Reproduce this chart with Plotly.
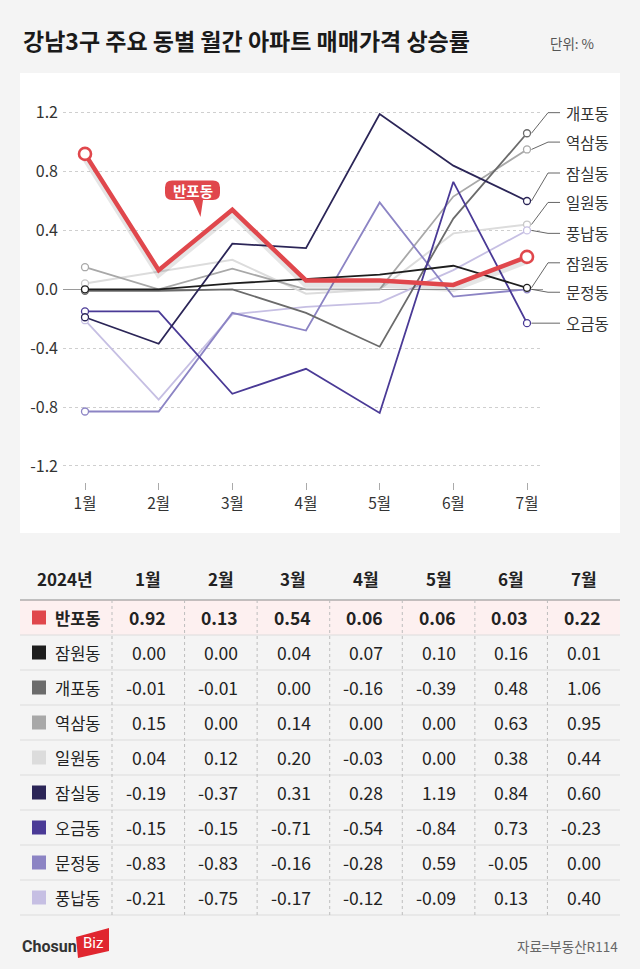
import plotly.graph_objects as go

W, H = 640, 969

# ---------------- data ----------------
months = ["1월", "2월", "3월", "4월", "5월", "6월", "7월"]
year_label = "2024년"
names = ["반포동", "잠원동", "개포동", "역삼동", "일원동", "잠실동", "오금동", "문정동", "풍납동"]
banpo = [0.92, 0.13, 0.54, 0.06, 0.06, 0.03, 0.22]
jamwon = [0.00, 0.00, 0.04, 0.07, 0.10, 0.16, 0.01]
gaepo = [-0.01, -0.01, 0.00, -0.16, -0.39, 0.48, 1.06]
yeoksam = [0.15, 0.00, 0.14, 0.00, 0.00, 0.63, 0.95]
irwon = [0.04, 0.12, 0.20, -0.03, 0.00, 0.38, 0.44]
jamsil = [-0.19, -0.37, 0.31, 0.28, 1.19, 0.84, 0.60]
ogeum = [-0.15, -0.15, -0.71, -0.54, -0.84, 0.73, -0.23]
munjeong = [-0.83, -0.83, -0.16, -0.28, 0.59, -0.05, 0.00]
pungnap = [-0.21, -0.75, -0.17, -0.12, -0.09, 0.13, 0.40]
y_ticks = [-1.2, -0.8, -0.4, 0.0, 0.4, 0.8, 1.2]

series = [banpo, jamwon, gaepo, yeoksam, irwon, jamsil, ogeum, munjeong, pungnap]
colors = ["#e0474c", "#1e1e1e", "#6b6b6b", "#a8a8a8", "#dcdcdc",
          "#2b2557", "#4a3a96", "#8c84c4", "#c6bfe3"]

# right-side labels (top to bottom) and their vertical slots (layout)
side_labels = ["개포동", "역삼동", "잠실동", "일원동", "풍납동", "잠원동", "문정동", "오금동"]
side_slots = [1.2, 1.0, 0.79, 0.59, 0.38, 0.18, -0.02, -0.23]

title = "강남3구 주요 동별 월간 아파트 매매가격 상승률"
unit = "단위: %"
source = "자료=부동산R114"

FONT = "Noto Sans CJK KR, Noto Sans, sans-serif"


def fx(px):
    return px / W


def fy(py):
    return 1 - py / H


# ---------------- chart geometry ----------------
PX_PER_X = 73.67
PX_PER_Y = 147.2
X0_PX = 85.0          # pixel of first month
Y0_PX = 289.3         # pixel of value 0
PLOT_L, PLOT_R, PLOT_T, PLOT_B = 63, 543, 100, 482
WIDE_R = 632

xr = [-(X0_PX - PLOT_L) / PX_PER_X, 6 + (PLOT_R - 527) / PX_PER_X]
xr_wide = [xr[0], xr[0] + (WIDE_R - PLOT_L) / PX_PER_X]
yr = [-(PLOT_B - Y0_PX) / PX_PER_Y, (Y0_PX - PLOT_T) / PX_PER_Y]

fig = go.Figure()

idx = list(range(len(months)))
draw_order = [4, 8, 3, 7, 2, 6, 5, 1]
for i in draw_order:
    fig.add_trace(go.Scatter(
        x=idx, y=series[i], mode="lines",
        line=dict(color=colors[i], width=2 if i == 4 else 1.8),
        hoverinfo="skip", showlegend=False, xaxis="x", yaxis="y"))
for i in draw_order:
    fig.add_trace(go.Scatter(
        x=[idx[0], idx[-1]], y=[series[i][0], series[i][-1]], mode="markers",
        marker=dict(size=7, color="white", line=dict(color=colors[i] if i != 4 else "#c8c8c8", width=1.3)),
        hoverinfo="skip", showlegend=False, xaxis="x", yaxis="y"))

# shadow of the highlighted line
fig.add_trace(go.Scatter(
    x=idx, y=[v - 0.025 for v in banpo], mode="lines",
    line=dict(color="rgba(0,0,0,0.10)", width=7),
    hoverinfo="skip", showlegend=False, xaxis="x", yaxis="y"))
fig.add_trace(go.Scatter(
    x=idx, y=banpo, mode="lines",
    line=dict(color=colors[0], width=4.5),
    hoverinfo="skip", showlegend=False, xaxis="x", yaxis="y"))
fig.add_trace(go.Scatter(
    x=[idx[0], idx[-1]], y=[banpo[0], banpo[-1]], mode="markers",
    marker=dict(size=12, color="white", line=dict(color=colors[0], width=2.6)),
    hoverinfo="skip", showlegend=False, xaxis="x", yaxis="y"))

# leader lines + side labels (wide overlay subplot)
name_to_series = dict(zip(names, series))
ELBOW_X = 6 + 21 / PX_PER_X
END_X = 6 + 33 / PX_PER_X
for lab, slot in zip(side_labels, side_slots):
    v = name_to_series[lab][-1]
    fig.add_trace(go.Scatter(
        x=[idx[-1] + 0.06, ELBOW_X, END_X], y=[v, slot, slot], mode="lines",
        line=dict(color="#555555", width=0.9),
        hoverinfo="skip", showlegend=False, xaxis="x3", yaxis="y3"))

annotations = []
shapes = []

for lab, slot in zip(side_labels, side_slots):
    annotations.append(dict(
        x=END_X + 4 / PX_PER_X, y=slot, xref="x3", yref="y3", text=lab,
        showarrow=False, xanchor="left", yanchor="middle",
        font=dict(family=FONT, size=15.5, color="#333333")))

# white chart panel
shapes.append(dict(type="rect", xref="paper", yref="paper", layer="below",
                   x0=fx(20), x1=fx(620), y0=fy(533), y1=fy(73),
                   fillcolor="white", line=dict(width=0)))


# callout bubble for 반포동
def P(px, py):
    return f"{fx(px):.5f},{fy(py):.5f}"


bx0, bx1, by0, by1, r = 165, 220, 180.5, 200, 7
path = (f"M {P(bx0 + r, by0)} L {P(bx1 - r, by0)} Q {P(bx1, by0)} {P(bx1, by0 + r)} "
        f"L {P(bx1, by1 - r)} Q {P(bx1, by1)} {P(bx1 - r, by1)} "
        f"L {P(203, by1)} L {P(200.5, 217)} L {P(193, by1)} "
        f"L {P(bx0 + r, by1)} Q {P(bx0, by1)} {P(bx0, by1 - r)} "
        f"L {P(bx0, by0 + r)} Q {P(bx0, by0)} {P(bx0 + r, by0)} Z")
shapes.append(dict(type="path", xref="paper", yref="paper", path=path,
                   fillcolor=colors[0], line=dict(width=0), layer="above"))
annotations.append(dict(x=fx((bx0 + bx1) / 2), y=fy((by0 + by1) / 2), xref="paper", yref="paper",
                        text="<b>반포동</b>", showarrow=False, xanchor="center", yanchor="middle",
                        font=dict(family=FONT, size=14.5, color="white")))

# title & unit
annotations.append(dict(x=fx(21), y=fy(40), xref="paper", yref="paper", text=f"<b>{title}</b>",
                        showarrow=False, xanchor="left", yanchor="middle",
                        font=dict(family=FONT, size=23, color="#1a1a1a")))
annotations.append(dict(x=fx(548), y=fy(43), xref="paper", yref="paper", text=unit,
                        showarrow=False, xanchor="left", yanchor="middle",
                        font=dict(family=FONT, size=13.5, color="#555555")))

# ---------------- table (its own axes: x in px, y in row units) ----------------
TBL_T, TBL_B = 555.0, 917.5
ROW_H = 35.0
ROW0 = 600.0
col_edges = [20.0] + [112.0 + k * (620.0 - 112.0) / 7 for k in range(8)]
y4_range = [(TBL_B - ROW0) / ROW_H, (TBL_T - ROW0) / ROW_H]
n_rows = len(names)

# highlight row
shapes.append(dict(type="rect", xref="x4", yref="y4", x0=20, x1=620, y0=0, y1=1,
                   fillcolor="#fdf0f0", line=dict(width=0), layer="below"))
# row lines
for k in range(n_rows + 1):
    shapes.append(dict(type="line", xref="x4", yref="y4", x0=20, x1=620, y0=k, y1=k,
                       line=dict(color="#8a8a8a" if k == 0 else "#dcdcdc", width=1.2 if k == 0 else 1)))
# column separators
for ce in col_edges[1:-1]:
    shapes.append(dict(type="line", xref="x4", yref="y4", x0=ce, x1=ce, y0=0, y1=n_rows,
                       line=dict(color="#bdbdbd", width=1, dash="dot")))

header_y = (578 - ROW0) / ROW_H
annotations.append(dict(x=(col_edges[0] + col_edges[1]) / 2 - 1, y=header_y, xref="x4", yref="y4",
                        text=f"<b>{year_label}</b>", showarrow=False, xanchor="center", yanchor="middle",
                        font=dict(family=FONT, size=17, color="#222222")))
for j, m in enumerate(months):
    annotations.append(dict(x=(col_edges[j + 1] + col_edges[j + 2]) / 2, y=header_y, xref="x4", yref="y4",
                            text=f"<b>{m}</b>", showarrow=False, xanchor="center", yanchor="middle",
                            font=dict(family=FONT, size=17, color="#222222")))

for r_i, (nm, vals, col) in enumerate(zip(names, series, colors)):
    yc = r_i + 0.5
    bold = r_i == 0
    shapes.append(dict(type="rect", xref="x4", yref="y4", x0=32, x1=46,
                       y0=yc - 7 / ROW_H, y1=yc + 7 / ROW_H, fillcolor=col, line=dict(width=0)))
    annotations.append(dict(x=53, y=yc, xref="x4", yref="y4",
                            text=f"<b>{nm}</b>" if bold else nm, showarrow=False,
                            xanchor="left", yanchor="middle",
                            font=dict(family=FONT, size=16.5, color="#222222")))
    for j, v in enumerate(vals):
        t = f"{v:.2f}"
        annotations.append(dict(x=col_edges[j + 2] - 17, y=yc, xref="x4", yref="y4",
                                text=f"<b>{t}</b>" if bold else t, showarrow=False,
                                xanchor="right", yanchor="middle",
                                font=dict(family=FONT, size=17.5, color="#222222")))

# ---------------- footer ----------------
shapes.append(dict(type="path", xref="paper", yref="paper",
                   path=f"M {P(76, 937)} L {P(109, 928)} L {P(109, 951)} L {P(78, 958)} Z",
                   fillcolor="#e0262f", line=dict(width=0)))
annotations.append(dict(x=fx(20), y=fy(946), xref="paper", yref="paper", text="<b>Chosun</b>",
                        showarrow=False, xanchor="left", yanchor="middle",
                        font=dict(family="Roboto, sans-serif", size=16, color="#333333")))
annotations.append(dict(x=fx(93), y=fy(943), xref="paper", yref="paper", text="Biz",
                        showarrow=False, xanchor="center", yanchor="middle",
                        font=dict(family="Roboto, sans-serif", size=15, color="white")))
annotations.append(dict(x=fx(620), y=fy(946), xref="paper", yref="paper", text=source,
                        showarrow=False, xanchor="right", yanchor="middle",
                        font=dict(family=FONT, size=13.5, color="#666666")))

y_dom = [fy(PLOT_B), fy(PLOT_T)]
fig.update_layout(
    width=W, height=H,
    margin=dict(l=0, r=0, t=0, b=0),
    paper_bgcolor="#f4f4f4", plot_bgcolor="rgba(0,0,0,0)",
    showlegend=False,
    xaxis=dict(domain=[fx(PLOT_L), fx(PLOT_R)], range=xr, anchor="y",
               tickmode="array", tickvals=idx, ticktext=months,
               showgrid=False, zeroline=False, showline=False,
               ticks="outside", ticklen=7, tickcolor="#aaaaaa", tickwidth=1,
               tickfont=dict(family=FONT, size=15.5, color="#333333"), fixedrange=True),
    yaxis=dict(domain=y_dom, range=yr, anchor="x",
               tickmode="array", tickvals=y_ticks, ticktext=[f"{t:.1f}" for t in y_ticks],
               showgrid=True, gridcolor="#cfcfcf", griddash="dot", gridwidth=1,
               zeroline=True, zerolinecolor="#9a9a9a", zerolinewidth=1,
               showline=False, ticks="", ticklabelstandoff=4,
               tickfont=dict(family=FONT, size=16, color="#333333"), fixedrange=True),
    xaxis3=dict(domain=[fx(PLOT_L), fx(WIDE_R)], range=xr_wide, anchor="y3", visible=False,
                showgrid=False, zeroline=False),
    yaxis3=dict(domain=y_dom, range=yr, anchor="x3", visible=False, showgrid=False, zeroline=False),
    xaxis4=dict(domain=[fx(20), fx(620)], range=[20, 620], anchor="y4", visible=False,
                showgrid=False, zeroline=False),
    yaxis4=dict(domain=[fy(TBL_B), fy(TBL_T)], range=y4_range, anchor="x4", visible=False,
                showgrid=False, zeroline=False),
    shapes=shapes,
    annotations=annotations,
)

# invisible anchor trace so the table axes exist
fig.add_trace(go.Scatter(x=[20, 620], y=[0, 0], mode="markers", marker=dict(opacity=0),
                         hoverinfo="skip", showlegend=False, xaxis="x4", yaxis="y4"))

fig.write_html("out.html",
               config={"displayModeBar": False, "staticPlot": True},
               post_script="document.body.style.margin='0';document.body.style.padding='0';"
                           "document.body.style.overflow='hidden';")
